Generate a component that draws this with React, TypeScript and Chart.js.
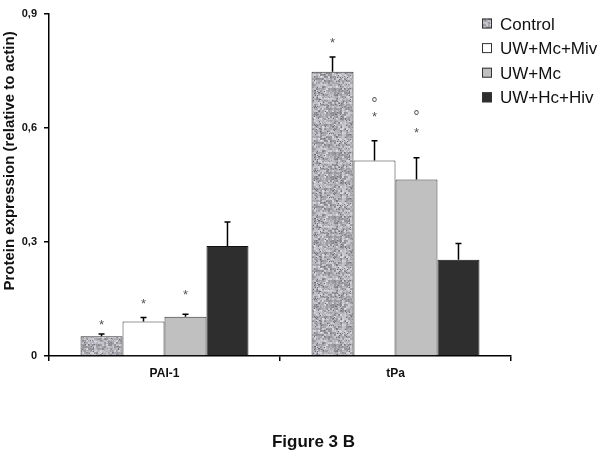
import React, { useEffect, useRef } from 'react';
import { Chart, registerables } from 'chart.js';

Chart.register(...registerables);

const categories = ['PAI-1', 'tPa'];
const seriesNames = ['Control', 'UW+Mc+Miv', 'UW+Mc', 'UW+Hc+Hiv'];
const controlValues = [0.052, 0.747];
const mcMivValues = [0.0905, 0.514];
const mcValues = [0.103, 0.464];
const hcHivValues = [0.289, 0.253];
const controlErrors = [0.006, 0.039];
const mcMivErrors = [0.011, 0.052];
const mcErrors = [0.007, 0.057];
const hcHivErrors = [0.063, 0.043];
const starHeights: (number | null)[][] = [[0.089, 0.83], [0.142, 0.634], [0.166, 0.593], [null, null]];
const circleHeights: (number | null)[][] = [[null, null], [null, 0.673], [null, 0.641], [null, null]];
const yTicks = [0, 0.3, 0.6, 0.9];
const yTitle = 'Protein expression (relative to actin)';
const figureTitle = 'Figure 3 B';

const FONT = "'Liberation Sans', Arial, sans-serif";

function hash(x: number, y: number, a: number, b: number, k: number) {
  const s = Math.sin(x * a + y * b) * k;
  return s - Math.floor(s);
}

function makeNoisePattern(ctx: CanvasRenderingContext2D): CanvasPattern | string {
  const N = 64;
  const off = document.createElement('canvas');
  off.width = N;
  off.height = N;
  const o = off.getContext('2d');
  if (!o) return '#ababb0';
  const img = o.createImageData(N, N);
  for (let y = 0; y < N; y++) {
    for (let x = 0; x < N; x++) {
      const coarse = hash(Math.floor(x / 2), Math.floor(y / 2), 12.9898, 78.233, 43758.5453);
      const fine = hash(x, y, 39.3468, 11.135, 24634.6345);
      let v = 176 + (coarse - 0.5) * 70 + (fine - 0.5) * 30;
      if (hash(x, y, 7.13, 91.7, 15731.743) > 0.96) v = 110;
      const i = (y * N + x) * 4;
      img.data[i] = v;
      img.data[i + 1] = v;
      img.data[i + 2] = v + 6;
      img.data[i + 3] = 255;
    }
  }
  o.putImageData(img, 0, 0);
  return ctx.createPattern(off, 'repeat') || '#ababb0';
}

export default function App() {
  const ref = useRef<HTMLCanvasElement>(null);

  useEffect(() => {
    const canvas = ref.current;
    if (!canvas) return;
    const ctx = canvas.getContext('2d');
    if (!ctx) return;
    const pattern = makeNoisePattern(ctx);
    const fills: any[] = [pattern, '#ffffff', '#c0c0c0', '#2e2e2e'];
    const borders = ['#333333', '#333333', '#333333', '#111111'];
    const values = [controlValues, mcMivValues, mcValues, hcHivValues];
    const errors = [controlErrors, mcMivErrors, mcErrors, hcHivErrors];

    const extras = {
      id: 'extras',
      afterDatasetsDraw(chart: any) {
        const c = chart.ctx;
        const ys = chart.scales.y;
        c.save();
        values.forEach((vals, i) => {
          const meta = chart.getDatasetMeta(i);
          meta.data.forEach((el: any, j: number) => {
            const top = ys.getPixelForValue(vals[j] + errors[i][j]);
            c.strokeStyle = '#000';
            c.lineWidth = 1.5;
            c.beginPath();
            c.moveTo(el.x, el.y);
            c.lineTo(el.x, top);
            c.moveTo(el.x - 3, top);
            c.lineTo(el.x + 3, top);
            c.stroke();
          });
        });
        const drawCentered = (txt: string, x: number, cy: number, font: string) => {
          c.font = font;
          c.textAlign = 'center';
          c.textBaseline = 'alphabetic';
          const m = c.measureText(txt);
          const base = cy + (m.actualBoundingBoxAscent - m.actualBoundingBoxDescent) / 2;
          c.fillText(txt, x, base);
        };
        c.fillStyle = '#555';
        values.forEach((_, i) => {
          const meta = chart.getDatasetMeta(i);
          meta.data.forEach((el: any, j: number) => {
            const s = starHeights[i][j];
            if (s !== null) drawCentered('*', el.x, ys.getPixelForValue(s), `13px ${FONT}`);
            const o = circleHeights[i][j];
            if (o !== null) drawCentered('°', el.x, ys.getPixelForValue(o), `16px ${FONT}`);
          });
        });
        c.restore();
      },
      afterDraw(chart: any) {
        const c = chart.ctx;
        c.save();
        c.translate(9.5, 161);
        c.rotate(-Math.PI / 2);
        c.font = `bold 15px ${FONT}`;
        c.fillStyle = '#111';
        c.textAlign = 'center';
        c.textBaseline = 'middle';
        c.fillText(yTitle, 0, 0);
        c.restore();
        c.save();
        c.font = `bold 17px ${FONT}`;
        c.fillStyle = '#111';
        c.textAlign = 'center';
        c.textBaseline = 'alphabetic';
        c.fillText(figureTitle, 313.5, 447);
        seriesNames.forEach((name, i) => {
          const cy = 23.5 + i * 24.6;
          c.fillStyle = fills[i];
          c.fillRect(482, cy - 5, 10, 10);
          c.strokeStyle = '#333';
          c.lineWidth = 1;
          c.strokeRect(482.5, cy - 4.5, 9, 9);
          c.fillStyle = '#111';
          c.font = `17px ${FONT}`;
          c.textAlign = 'left';
          c.fillText(name, 500, cy + 6);
        });
        c.restore();
      },
    };

    const chart = new Chart(canvas, {
      type: 'bar',
      data: {
        labels: categories,
        datasets: seriesNames.map((name, i) => ({
          label: name,
          data: values[i],
          backgroundColor: fills[i],
          borderColor: borders[i],
          borderWidth: 1,
          categoryPercentage: 0.727,
          barPercentage: 1.0,
        })),
      },
      options: {
        responsive: false,
        animation: false,
        devicePixelRatio: 1,
        layout: { padding: { left: 0, top: 8, right: 93, bottom: 0 } },
        plugins: {
          legend: { display: false },
          title: { display: false },
          tooltip: { enabled: false },
        },
        scales: {
          x: {
            grid: { display: true, drawOnChartArea: false, drawTicks: true, tickLength: 5, color: '#000', lineWidth: 1.5, offset: true },
            border: { display: true, color: '#000', width: 1.5 },
            ticks: { color: '#111', font: { family: FONT, size: 12, weight: 'bold' }, padding: 5, maxRotation: 0 },
            afterFit: (s: any) => { s.height = 100; },
          },
          y: {
            min: 0,
            max: 0.9,
            afterBuildTicks: (s: any) => { s.ticks = yTicks.map((v) => ({ value: v })); },
            grid: { display: true, drawOnChartArea: false, drawTicks: true, tickLength: 5, color: '#000', lineWidth: 1.5 },
            border: { display: true, color: '#000', width: 1.5 },
            ticks: {
              color: '#111',
              font: { family: FONT, size: 11, weight: 'bold' },
              padding: 7,
              callback: (v: any) => (Number(v) === 0 ? '0' : Number(v).toFixed(1).replace('.', ',')),
            },
            afterFit: (s: any) => { s.width = 49; },
          },
        },
      } as any,
      plugins: [extras],
    });
    return () => chart.destroy();
  }, []);

  return (
    <div style={{ position: 'absolute', left: 0, top: 0, width: 604, height: 456, background: '#fff' }}>
      <canvas ref={ref} width={604} height={456} style={{ display: 'block' }} />
    </div>
  );
}
